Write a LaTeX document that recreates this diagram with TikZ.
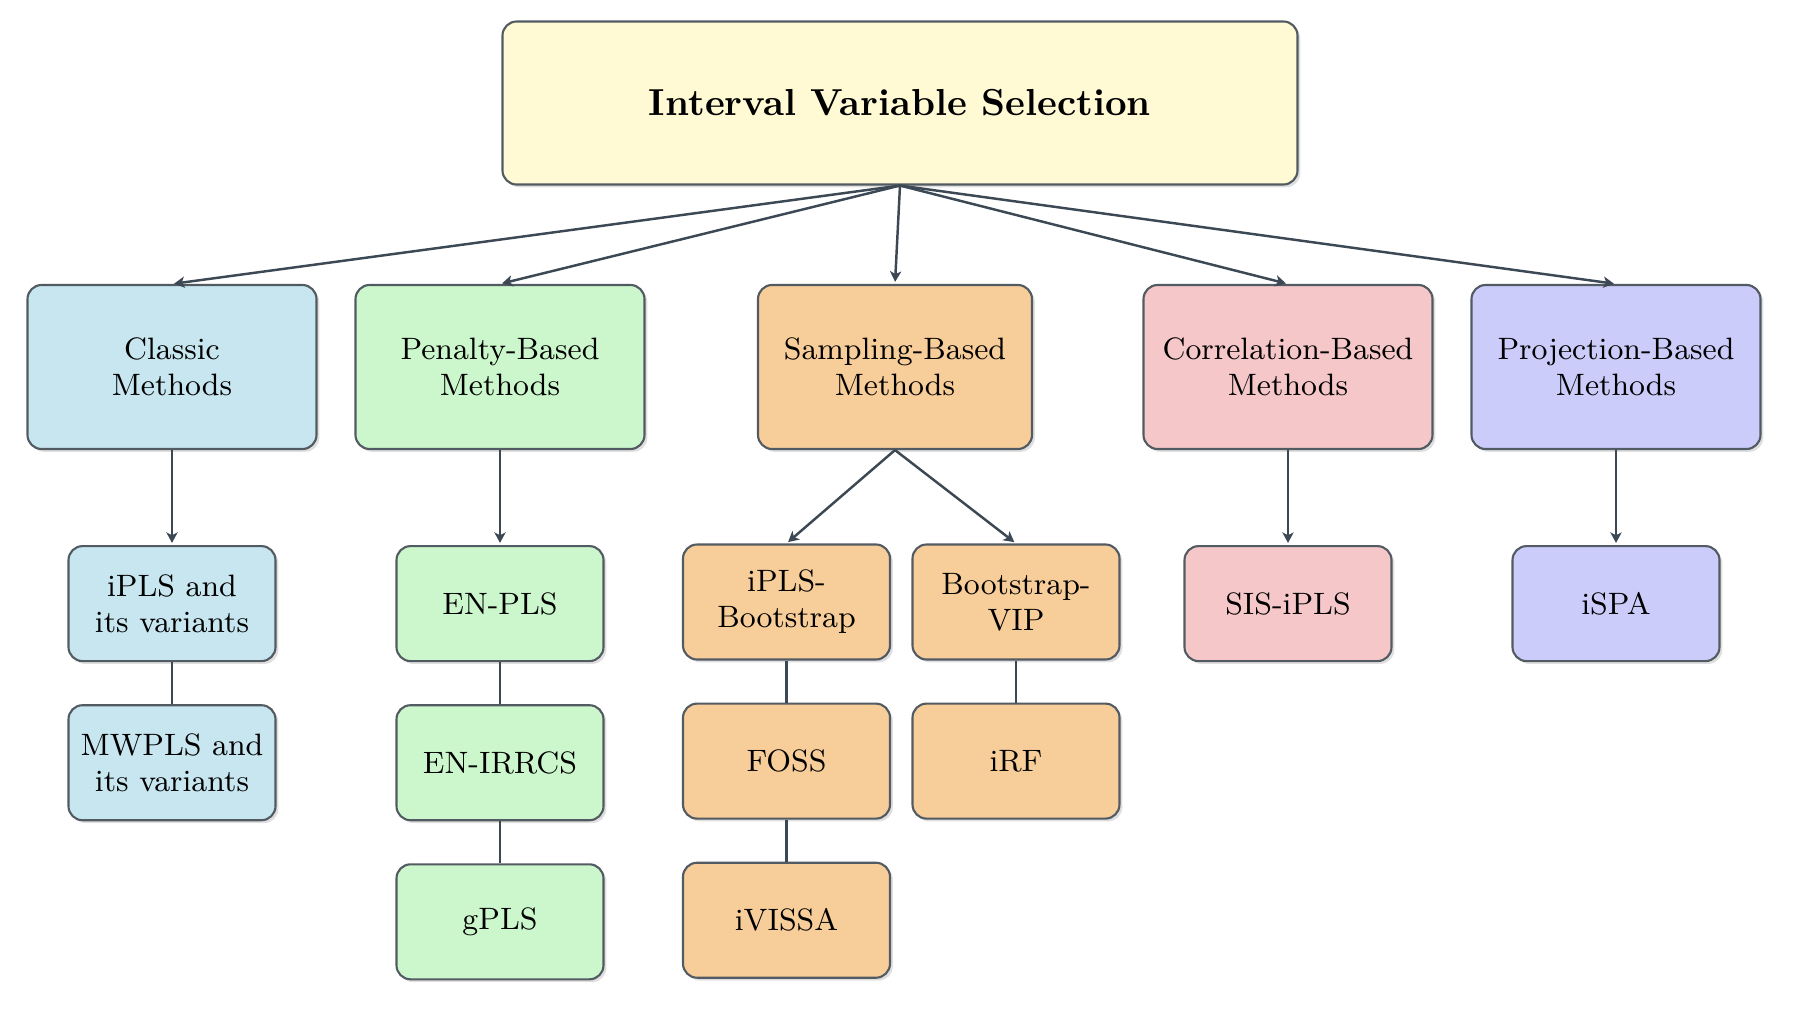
\documentclass[tikz,border=0pt]{standalone}
\usetikzlibrary{arrows.meta, positioning, shadows}
\definecolor{titlefill}{RGB}{255,250,212}
\definecolor{classicfill}{RGB}{199,230,240}
\definecolor{penaltyfill}{RGB}{204,247,204}
\definecolor{samplingfill}{RGB}{247,205,153}
\definecolor{corrfill}{RGB}{245,199,200}
\definecolor{projfill}{RGB}{204,204,250}
\definecolor{edgegray}{RGB}{82,90,98}
\definecolor{linkgray}{RGB}{60,72,84}
\tikzset{headarrow/.style = {-{Stealth[length=3pt, width=3.2pt, inset=.8pt]},
                             line width=.7pt, draw=linkgray, shorten >=.6pt}}
\tikzset{plainlink/.style = {line width=.7pt, draw=linkgray}}
\tikzset{basebox/.style = {draw=edgegray, line width=.6pt, rounded corners=4pt,
                           align=center, inner sep=0pt,
                           drop shadow={shadow xshift=.8pt, shadow yshift=-.8pt, opacity=.25},
                           font=\fontsize{8.8}{10.2}\selectfont}}
\tikzset{methodbox/.style = {basebox, minimum width=2.89cm, minimum height=1.64cm}}
\tikzset{leafbox/.style = {basebox, minimum width=2.07cm, minimum height=1.15cm}}

\begin{document}
\begin{tikzpicture}[node distance=.42cm]
    \useasboundingbox (0,0) rectangle (18,-10.13);

    \node (root) at (9.0,-1.03) [basebox, fill=titlefill,
                                 minimum width=7.95cm, minimum height=1.63cm,
                                 font=\fontsize{10.7}{13}\selectfont\bfseries] {Interval Variable Selection};

    % method families
    \node (classic)  at (1.72,-3.67)  [methodbox, fill=classicfill] {Classic\\Methods};
    \node (penalty)  at (5.00,-3.67)  [methodbox, fill=penaltyfill] {Penalty-Based\\Methods};
    \node (sampling) at (8.95,-3.67)  [methodbox, fill=samplingfill, minimum width=2.74cm] {Sampling-Based\\Methods};
    \node (corr)     at (12.88,-3.67) [methodbox, fill=corrfill] {Correlation-Based\\Methods};
    \node (proj)     at (16.16,-3.67) [methodbox, fill=projfill] {Projection-Based\\Methods};

    % methods
    \node (ipls)    [leafbox, fill=classicfill, below=.95cm of classic] {iPLS and\\its variants};
    \node (mwpls)   [leafbox, fill=classicfill, below=of ipls] {MWPLS and\\its variants};
    \node (enpls)   [leafbox, fill=penaltyfill, below=.95cm of penalty] {EN-PLS};
    \node (enirrcs) [leafbox, fill=penaltyfill, below=of enpls] {EN-IRRCS};
    \node (gpls)    [leafbox, fill=penaltyfill, below=of enirrcs] {gPLS};
    \node (iplsboot) at (7.865,-6.02) [leafbox, fill=samplingfill] {iPLS-\\Bootstrap};
    \node (bootvip)  at (10.16,-6.02) [leafbox, fill=samplingfill] {Bootstrap-\\VIP};
    \node (foss)    [leafbox, fill=samplingfill, below=of iplsboot] {FOSS};
    \node (ivissa)  [leafbox, fill=samplingfill, below=of foss] {iVISSA};
    \node (irf)     [leafbox, fill=samplingfill, below=of bootvip] {iRF};
    \node (sisipls) [leafbox, fill=corrfill, below=.95cm of corr] {SIS-iPLS};
    \node (ispa)    [leafbox, fill=projfill, below=.95cm of proj] {iSPA};

    \foreach \Target in {classic, penalty, sampling, corr, proj}
        \draw[headarrow] (root.south) to (\Target.north);

    \foreach \Source/\Target in {%
        classic/ipls,
        penalty/enpls,
        sampling/iplsboot,
        sampling/bootvip,
        corr/sisipls,
        proj/ispa%
        }
        \draw[headarrow] (\Source.south) to (\Target.north);

    \foreach \Source/\Target in {%
        ipls/mwpls,
        enpls/enirrcs,
        enirrcs/gpls,
        iplsboot/foss,
        foss/ivissa,
        bootvip/irf%
        }
        \draw[plainlink] (\Source.south) to (\Target.north);
\end{tikzpicture}
\end{document}
